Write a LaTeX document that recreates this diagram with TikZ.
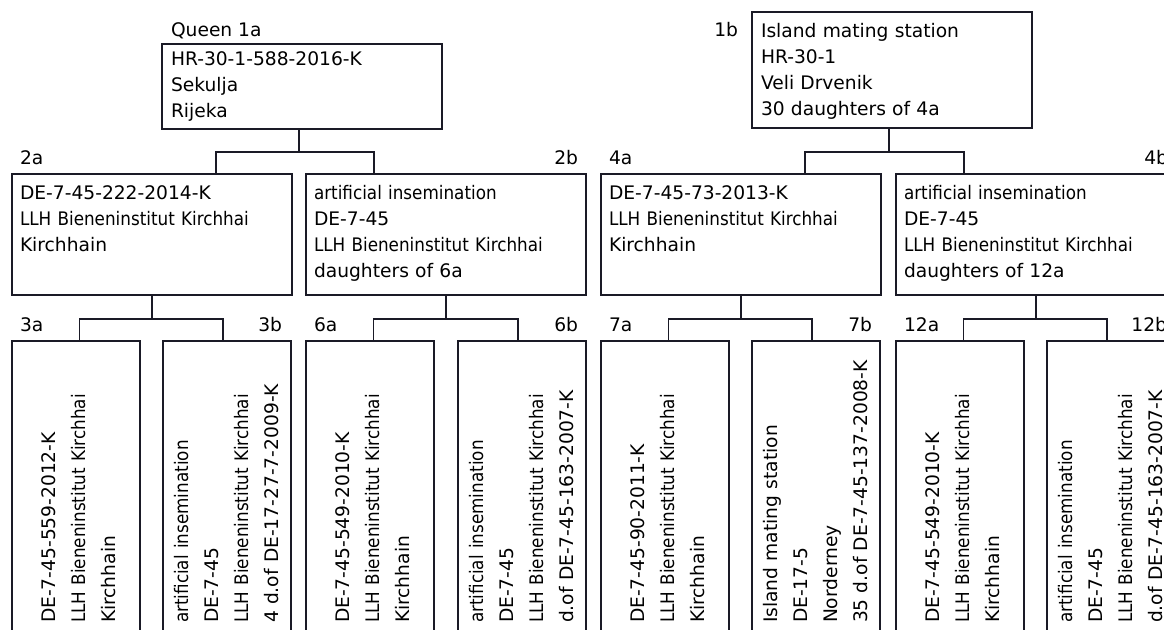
\documentclass[tikz,border=0pt]{standalone}
\usepackage{fontspec}
\setmainfont{DejaVu Sans}
\newfontfamily\condfont[FakeStretch=0.9]{DejaVu Sans}
\usepackage{tikz}
\definecolor{linec}{RGB}{26,26,38}

\begin{document}
\begin{tikzpicture}[x=0.75pt, y=-0.75pt,
  every node/.style={inner sep=0pt, outer sep=0pt},
  qbox/.style={draw=linec, line width=1pt, anchor=north west, minimum width=210pt},
  widebox/.style={qbox, minimum height=90.75pt},
  tallbox/.style={qbox, minimum width=96pt, minimum height=225pt},
  txt/.style={anchor=base west, align=left, text width=260pt, font=\fontsize{14}{19.5}\selectfont},
  vtxt/.style={txt, rotate=90, font=\fontsize{14}{22.5}\selectfont},
  lab/.style={font=\fontsize{14}{16}\selectfont},
  conn/.style={draw=linec, line width=1pt}]

\useasboundingbox (0,0) rectangle (1164,630);
\clip (0,0) rectangle (1164,630);

% Define nodes: queen and mating station
\node (q1a) [qbox, minimum height=63.75pt] at (162,44) {};
\node (l1a) [lab, anchor=base west] at ([shift={(9,-7)}]q1a.north west) {Queen 1a};
\node (t1a) [txt] at ([shift={(9,22)}]q1a.north west) {HR-30-1-588-2016-K\\Sekulja\\Rijeka};

\node (q1b) [qbox, minimum height=87pt] at (752,12) {};
\node (l1b) [lab, anchor=base east] at ([shift={(-14,25)}]q1b.north west) {1b};
\node (t1b) [txt] at ([shift={(9,26)}]q1b.north west) {Island mating station\\HR-30-1\\Veli Drvenik\\30 daughters of 4a};

% Define nodes: second row
\node (q2a) [widebox] at (12,174) {};
\node (l2a) [lab, anchor=base west] at ([shift={(8,-9)}]q2a.north west) {2a};
\node (t2a) [txt] at ([shift={(8,26)}]q2a.north west) {DE-7-45-222-2014-K\\{\condfont LLH Bieneninstitut Kirchhai}\\Kirchhain};

\node (q2b) [widebox] at (306,174) {};
\node (l2b) [lab, anchor=base east] at ([shift={(-8,-9)}]q2b.north east) {2b};
\node (t2b) [txt] at ([shift={(8,26)}]q2b.north west) {{\condfont artificial insemination}\\DE-7-45\\{\condfont LLH Bieneninstitut Kirchhai}\\daughters of 6a};

\node (q4a) [widebox] at (601,174) {};
\node (l4a) [lab, anchor=base west] at ([shift={(8,-9)}]q4a.north west) {4a};
\node (t4a) [txt] at ([shift={(8,26)}]q4a.north west) {DE-7-45-73-2013-K\\{\condfont LLH Bieneninstitut Kirchhai}\\Kirchhain};

\node (q4b) [widebox] at (896,174) {};
\node (l4b) [lab, anchor=base east] at ([shift={(-8,-9)}]q4b.north east) {4b};
\node (t4b) [txt] at ([shift={(8,26)}]q4b.north west) {{\condfont artificial insemination}\\DE-7-45\\{\condfont LLH Bieneninstitut Kirchhai}\\daughters of 12a};

% Define nodes: third row
\node (q3a) [tallbox] at (12,341) {};
\node (l3a) [lab, anchor=base west] at ([shift={(8,-9)}]q3a.north west) {3a};
\node (t3a) [vtxt] at ([shift={(43,282)}]q3a.north west) {DE-7-45-559-2012-K\\{\condfont LLH Bieneninstitut Kirchhai}\\Kirchhain};

\node (q3b) [tallbox] at (163,341) {};
\node (l3b) [lab, anchor=base east] at ([shift={(-9,-9)}]q3b.north east) {3b};
\node (t3b) [vtxt] at ([shift={(25,282)}]q3b.north west) {{\condfont artificial insemination}\\DE-7-45\\{\condfont LLH Bieneninstitut Kirchhai}\\4 d.of DE-17-27-7-2009-K};

\node (q6a) [tallbox] at (306,341) {};
\node (l6a) [lab, anchor=base west] at ([shift={(8,-9)}]q6a.north west) {6a};
\node (t6a) [vtxt] at ([shift={(43,282)}]q6a.north west) {DE-7-45-549-2010-K\\{\condfont LLH Bieneninstitut Kirchhai}\\Kirchhain};

\node (q6b) [tallbox] at (458,341) {};
\node (l6b) [lab, anchor=base east] at ([shift={(-8,-9)}]q6b.north east) {6b};
\node (t6b) [vtxt] at ([shift={(25,282)}]q6b.north west) {{\condfont artificial insemination}\\DE-7-45\\{\condfont LLH Bieneninstitut Kirchhai}\\d.of DE-7-45-163-2007-K};

\node (q7a) [tallbox] at (601,341) {};
\node (l7a) [lab, anchor=base west] at ([shift={(8,-9)}]q7a.north west) {7a};
\node (t7a) [vtxt] at ([shift={(43,282)}]q7a.north west) {DE-7-45-90-2011-K\\{\condfont LLH Bieneninstitut Kirchhai}\\Kirchhain};

\node (q7b) [tallbox] at (752,341) {};
\node (l7b) [lab, anchor=base east] at ([shift={(-8,-9)}]q7b.north east) {7b};
\node (t7b) [vtxt] at ([shift={(25,282)}]q7b.north west) {Island mating station\\DE-17-5\\Norderney\\35 d.of DE-7-45-137-2008-K};

\node (q12a) [tallbox] at (896,341) {};
\node (l12a) [lab, anchor=base west] at ([shift={(8,-9)}]q12a.north west) {12a};
\node (t12a) [vtxt] at ([shift={(43,282)}]q12a.north west) {DE-7-45-549-2010-K\\{\condfont LLH Bieneninstitut Kirchhai}\\Kirchhain};

\node (q12b) [tallbox] at (1047,341) {};
\node (l12b) [lab, anchor=base east] at ([shift={(-8,-9)}]q12b.north east) {12b};
\node (t12b) [vtxt] at ([shift={(25,282)}]q12b.north west) {{\condfont artificial insemination}\\DE-7-45\\{\condfont LLH Bieneninstitut Kirchhai}\\d.of DE-7-45-163-2007-K};

% Draw edges from the top row
\coordinate (j1a) at (299,152);
\coordinate (j1b) at (889,152);
\draw[conn] (q1a.south -| j1a) -- (j1a);
\draw[conn] ([xshift=48pt]q2a.north) |- (j1a) -| ([xshift=-54pt]q2b.north);
\draw[conn] (q1b.south -| j1b) -- (j1b);
\draw[conn] ([xshift=48pt]q4a.north) |- (j1b) -| ([xshift=-54pt]q4b.north);

% Draw edges from the second row
\draw[conn] (q2a.south) -- ++(0,24) coordinate (j2a);
\draw[conn] ([xshift=2.6pt]q3a.north) |- (j2a) -| ([xshift=-3pt]q3b.north);
\draw[conn] (q2b.south) -- ++(0,24) coordinate (j2b);
\draw[conn] ([xshift=2.6pt]q6a.north) |- (j2b) -| ([xshift=-3pt]q6b.north);
\draw[conn] (q4a.south) -- ++(0,24) coordinate (j4a);
\draw[conn] ([xshift=2.6pt]q7a.north) |- (j4a) -| ([xshift=-3pt]q7b.north);
\draw[conn] (q4b.south) -- ++(0,24) coordinate (j4b);
\draw[conn] ([xshift=2.6pt]q12a.north) |- (j4b) -| ([xshift=-3pt]q12b.north);

\end{tikzpicture}
\end{document}
